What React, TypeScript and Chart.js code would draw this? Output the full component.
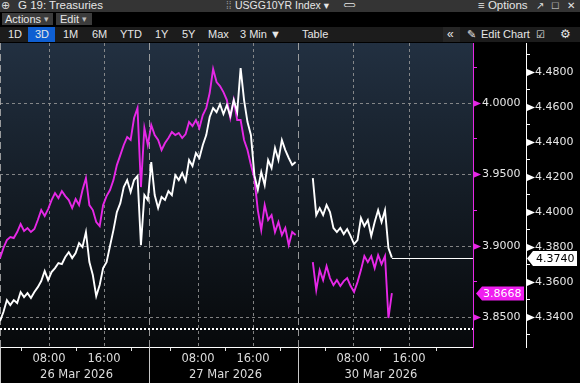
import React, { useEffect, useRef } from "react";
import { Chart, registerables } from "chart.js";

Chart.register(...registerables);

// ---------- time axis (hours of displayed session time) ----------
const xStart = 0;
const xEnd = 68.8;
const sampleStepHours = 0.5;
const segmentStarts = [0, 45.5];
const dayStartTimes = [0, 21.67, 43.35];
const hourTickTimes = [7.13, 15.13, 28.8, 36.8, 51.35, 59.5];
const hourTickLabels = ["08:00", "16:00", "08:00", "16:00", "08:00", "16:00"];
const minorTickTimes = [3.13, 11.13, 19.13, 24.8, 32.8, 40.8, 47.35, 55.4, 63.5];
const dateTickTimes = [11.13, 32.8, 55.4];
const dateLabels = ["26 Mar 2026", "27 Mar 2026", "30 Mar 2026"];

// ---------- USGG10YR Index (white, outer right axis) ----------
const usggThuFri = [
  4.3377, 4.3429, 4.3497, 4.3469, 4.3497, 4.348, 4.3543, 4.3514, 4.3537, 4.3509,
  4.3543, 4.3571, 4.3606, 4.3663, 4.3611, 4.3657, 4.368, 4.3709, 4.3703, 4.3743,
  4.3771, 4.3737, 4.3766, 4.3823, 4.38, 4.3886, 4.3714, 4.364, 4.352, 4.3583,
  4.368, 4.3714, 4.3806, 4.3897, 4.4, 4.4051, 4.4143, 4.4183, 4.4114, 4.4183,
  4.4206, 4.3811, 4.4097, 4.4069, 4.4286, 4.4097, 4.4023, 4.4086, 4.4069, 4.412,
  4.4097, 4.4211, 4.4183, 4.4223, 4.4177, 4.4297, 4.4263, 4.4337, 4.4309, 4.4383,
  4.444, 4.4543, 4.4594, 4.4571, 4.4617, 4.456, 4.4611, 4.4549, 4.464, 4.4571,
  4.4823, 4.464, 4.4514, 4.444, 4.4211, 4.4126, 4.4229, 4.4154, 4.4297, 4.4251,
  4.4366, 4.4297, 4.4411, 4.4354, 4.4309, 4.4269, 4.4286,
];
const usggMon = [
  4.4194, 4.3983, 4.4023, 4.3983, 4.404, 4.4, 4.3909, 4.3886, 4.3909, 4.3874,
  4.3903, 4.3863, 4.3817, 4.384, 4.3966, 4.392, 4.3954, 4.3863, 4.3943, 4.4011,
  4.3943, 4.4011, 4.3794, 4.374,
];

// ---------- comparison series (magenta, inner right axis) ----------
const magentaThuFri = [
  3.8913, 3.8984, 3.904, 3.9061, 3.9054, 3.9096, 3.9152, 3.9103, 3.9124, 3.9096,
  3.9117, 3.918, 3.925, 3.9208, 3.9257, 3.932, 3.9369, 3.9334, 3.9383, 3.9348,
  3.932, 3.9264, 3.9327, 3.9285, 3.939, 3.9474, 3.9285, 3.925, 3.9166, 3.9138,
  3.9285, 3.9348, 3.939, 3.946, 3.9565, 3.9635, 3.9706, 3.9762, 3.9741, 3.9895,
  3.9965, 3.9411, 3.9825, 3.9706, 3.9846, 3.9776, 3.9741, 3.9671, 3.972, 3.9755,
  3.9797, 3.9776, 3.979, 3.9755, 3.9783, 3.9867, 3.9839, 3.9881, 3.9825, 3.9916,
  3.9965, 4.007, 4.0238, 4.0147, 4.0119, 4.0077, 4.0021, 3.9895, 4.0021, 3.9881,
  3.9881, 3.9741, 3.9671, 3.9565, 3.9474, 3.925, 3.911, 3.9285, 3.918, 3.9215,
  3.9096, 3.9166, 3.9075, 3.9124, 3.9005, 3.9096, 3.9075,
];
const magentaMon = [
  3.8885, 3.8689, 3.8829, 3.8759, 3.8857, 3.8773, 3.8724, 3.8759, 3.8717, 3.8752,
  3.8773, 3.8717, 3.8675, 3.8745, 3.8829, 3.8927, 3.8885, 3.8927, 3.8843, 3.8934,
  3.8871, 3.8927, 3.8493, 3.8668,
];

// ---------- axes ----------
const magentaAxisMin = 3.829;
const magentaAxisMax = 4.0421;
const whiteAxisMin = 4.3229;
const whiteAxisMax = 4.4966;
const magentaTicks = [3.85, 3.875, 3.9, 3.925, 3.95, 3.975, 4.0, 4.025];
const magentaLabelled = [3.85, 3.9, 3.95, 4.0];
const whiteTicks = [
  4.33, 4.34, 4.35, 4.36, 4.37, 4.38, 4.39, 4.4, 4.41, 4.42, 4.43, 4.44, 4.45,
  4.46, 4.47, 4.48, 4.49,
];
const whiteLabelled = [4.34, 4.36, 4.38, 4.4, 4.42, 4.44, 4.46, 4.48];
const referenceLevel = 3.8416; // dotted line, magenta axis

const MAGENTA = "#e628e6";
const TAG_MAGENTA = "#f01ef0";
const FONT = '"DejaVu Sans", sans-serif';

const near = (list: number[], v: number) => list.some((m) => Math.abs(m - v) < 1e-6);

function toPoints(segments: number[][]) {
  const pts: { x: number; y: number | null }[] = [];
  segments.forEach((vals, s) => {
    if (s > 0) pts.push({ x: segmentStarts[s] - sampleStepHours, y: null });
    vals.forEach((v, i) => pts.push({ x: segmentStarts[s] + i * sampleStepHours, y: v }));
  });
  return pts;
}

const bbgPlugin = {
  id: "bbg",
  beforeDraw(chart: any) {
    const { ctx, chartArea: a, width, height } = chart;
    ctx.save();
    ctx.fillStyle = "#000";
    ctx.fillRect(0, 0, width, height);
    const g = ctx.createLinearGradient(0, a.top, 0, a.bottom);
    g.addColorStop(0, "#223041");
    g.addColorStop(0.5, "#141c25");
    g.addColorStop(1, "#07090b");
    ctx.fillStyle = g;
    ctx.fillRect(a.left, a.top, a.right - a.left, a.bottom - a.top);
    ctx.restore();
  },
  beforeDatasetsDraw(chart: any) {
    const { ctx, chartArea: a, scales } = chart;
    const x = scales.x;
    const yM = scales.yM;
    const seg = (x1: number, y1: number, x2: number, y2: number) => {
      ctx.beginPath();
      ctx.moveTo(x1, y1);
      ctx.lineTo(x2, y2);
      ctx.stroke();
    };
    ctx.save();
    ctx.lineWidth = 1;
    ctx.strokeStyle = "rgba(150,150,150,0.85)";
    ctx.setLineDash([3, 3]);
    magentaLabelled.forEach((v) => {
      const py = Math.round(yM.getPixelForValue(v)) + 0.5;
      seg(a.left, py, a.right, py);
    });
    hourTickTimes.forEach((t) => {
      const px = Math.round(x.getPixelForValue(t)) + 0.5;
      seg(px, a.top, px, a.bottom);
    });
    ctx.setLineDash([7, 4]);
    ctx.strokeStyle = "rgba(175,175,175,0.85)";
    dayStartTimes.forEach((t) => {
      const px = Math.round(x.getPixelForValue(t)) + 0.5;
      seg(px, a.top, px, a.bottom);
    });
    ctx.setLineDash([2, 2]);
    ctx.lineWidth = 2;
    ctx.strokeStyle = "#ffffff";
    const ry = Math.round(yM.getPixelForValue(referenceLevel));
    seg(a.left, ry, a.right, ry);
    ctx.restore();
  },
  afterDatasetsDraw(chart: any) {
    const { ctx, chartArea: a, scales } = chart;
    const last = usggMon[usggMon.length - 1];
    const lastT = segmentStarts[1] + (usggMon.length - 1) * sampleStepHours;
    const px = scales.x.getPixelForValue(lastT);
    const py = Math.round(scales.yW.getPixelForValue(last)) + 0.5;
    ctx.save();
    ctx.strokeStyle = "#ffffff";
    ctx.lineWidth = 1;
    ctx.beginPath();
    ctx.moveTo(px, py);
    ctx.lineTo(a.right, py);
    ctx.stroke();
    ctx.restore();
  },
  afterDraw(chart: any) {
    const { ctx, chartArea: a, scales, height } = chart;
    const yM = scales.yM;
    const yW = scales.yW;
    ctx.save();
    const tri = (x0: number, y: number, color: string) => {
      ctx.fillStyle = color;
      ctx.beginPath();
      ctx.moveTo(x0, y - 3.5);
      ctx.lineTo(x0 + 8, y);
      ctx.lineTo(x0, y + 3.5);
      ctx.closePath();
      ctx.fill();
    };
    magentaLabelled.forEach((v) => tri(yM.left, Math.round(yM.getPixelForValue(v)) + 0.5, MAGENTA));
    whiteLabelled.forEach((v) => tri(yW.left + 1, Math.round(yW.getPixelForValue(v)) + 0.5, "#ffffff"));
    ctx.strokeStyle = "#c8c8c8";
    ctx.lineWidth = 1;
    dayStartTimes.forEach((t) => {
      const px = Math.round(scales.x.getPixelForValue(t)) + 0.5;
      ctx.beginPath();
      ctx.moveTo(px, a.bottom);
      ctx.lineTo(px, height);
      ctx.stroke();
    });
    ctx.font = `11px ${FONT}`;
    ctx.textBaseline = "middle";
    ctx.textAlign = "left";
    const mLast = magentaMon[magentaMon.length - 1];
    const my = Math.round(yM.getPixelForValue(mLast)) + 0.5;
    const mx = yM.left;
    ctx.fillStyle = TAG_MAGENTA;
    ctx.beginPath();
    ctx.moveTo(mx + 3, my);
    ctx.lineTo(mx + 9, my - 7);
    ctx.lineTo(mx + 51, my - 7);
    ctx.lineTo(mx + 51, my + 7);
    ctx.lineTo(mx + 9, my + 7);
    ctx.closePath();
    ctx.fill();
    ctx.fillStyle = "#ffffff";
    ctx.fillText(mLast.toFixed(4), mx + 10, my + 0.5);

    const wLast = usggMon[usggMon.length - 1];
    const wy = Math.round(yW.getPixelForValue(wLast)) + 0.5;
    const wx = yW.left;
    ctx.fillStyle = "#ffffff";
    ctx.beginPath();
    ctx.moveTo(wx + 1, wy);
    ctx.lineTo(wx + 7, wy - 7.5);
    ctx.lineTo(wx + 51, wy - 7.5);
    ctx.lineTo(wx + 51, wy + 7.5);
    ctx.lineTo(wx + 7, wy + 7.5);
    ctx.closePath();
    ctx.fill();
    ctx.fillStyle = "#000000";
    ctx.fillText(wLast.toFixed(4), wx + 10, wy + 0.5);
    ctx.restore();
  },
};

function Toolbar() {
  const t = (left: number, top: number, text: string, style: any = {}) => (
    <span style={{ position: "absolute", left, top, whiteSpace: "pre", ...style }}>{text}</span>
  );
  const row3 = { lineHeight: "15px", fontSize: 11 };
  return (
    <>
      <div style={{ position: "absolute", left: 0, top: 0, width: 580, height: 12, background: "#343434" }} />
      {t(1, -1, "⊕", { fontSize: 11, lineHeight: "13px", color: "#ddd" })}
      {t(18, -1, "G 19: Treasuries", { fontSize: 11.5, lineHeight: "13px" })}
      {t(226, -1, "⁞⁞", { fontSize: 10, lineHeight: "13px", color: "#999" })}
      {t(235, -1, "USGG10YR Index ▾", { fontSize: 10.5, lineHeight: "13px" })}
      {t(343, -1, "⊂⊃", { fontSize: 9, lineHeight: "13px", letterSpacing: -2 })}
      {t(478, -1, "≡ Options", { fontSize: 11.5, lineHeight: "13px" })}
      {t(536, -1, "↗", { fontSize: 10, lineHeight: "13px" })}
      {t(552, -1, "□", { fontSize: 11, lineHeight: "13px" })}
      {t(567, -1, "✕", { fontSize: 10, lineHeight: "13px" })}

      <div style={{ position: "absolute", left: 2, top: 13, width: 51, height: 12, background: "#3c3c3c" }} />
      <div style={{ position: "absolute", left: 56, top: 13, width: 36, height: 12, background: "#3c3c3c" }} />
      {t(5, 13, "Actions", { fontSize: 11, lineHeight: "12px" })}
      {t(44, 13, "▾", { fontSize: 9, lineHeight: "12px", color: "#bbb" })}
      {t(60, 13, "Edit", { fontSize: 11, lineHeight: "12px" })}
      {t(82, 13, "▾", { fontSize: 9, lineHeight: "12px", color: "#bbb" })}

      <div style={{ position: "absolute", left: 0, top: 27, width: 580, height: 15, background: "#1c1c1c" }} />
      <div style={{ position: "absolute", left: 28, top: 27, width: 27, height: 15, background: "#0f5fd2" }} />
      {t(8, 27, "1D", row3)}
      {t(35, 27, "3D", row3)}
      {t(63, 27, "1M", row3)}
      {t(92, 27, "6M", row3)}
      {t(120, 27, "YTD", row3)}
      {t(155, 27, "1Y", row3)}
      {t(182, 27, "5Y", row3)}
      {t(208, 27, "Max", row3)}
      {t(240, 27, "3 Min ▼", row3)}
      {t(302, 27, "Table", row3)}
      <div style={{ position: "absolute", left: 443, top: 27, width: 17, height: 15, background: "#262626" }} />
      {t(447, 27, "«", { ...row3, fontSize: 12 })}
      {t(467, 27, "✎", row3)}
      {t(481, 27, "Edit Chart", row3)}
      {t(536, 27, "☑", { ...row3, fontSize: 10 })}
      {t(560, 27, "⚙", { ...row3, fontSize: 12 })}
    </>
  );
}

export default function App() {
  const ref = useRef<HTMLCanvasElement>(null);
  useEffect(() => {
    const canvas = ref.current;
    if (!canvas) return;
    const chart = new Chart(canvas, {
      type: "line",
      data: {
        datasets: [
          {
            label: "USGG10YR Index",
            data: toPoints([usggThuFri, usggMon]) as any,
            xAxisID: "x",
            yAxisID: "yW",
            borderColor: "#ffffff",
            borderWidth: 1.9,
            borderJoinStyle: "miter",
            pointRadius: 0,
            tension: 0,
            spanGaps: false,
          },
          {
            label: "Comparison",
            data: toPoints([magentaThuFri, magentaMon]) as any,
            xAxisID: "x",
            yAxisID: "yM",
            borderColor: MAGENTA,
            borderWidth: 1.9,
            borderJoinStyle: "miter",
            pointRadius: 0,
            tension: 0,
            spanGaps: false,
          },
        ],
      },
      options: {
        animation: false,
        responsive: false,
        maintainAspectRatio: false,
        devicePixelRatio: 1,
        layout: { padding: 0, autoPadding: false } as any,
        plugins: { legend: { display: false }, tooltip: { enabled: false } },
        scales: {
          x: {
            type: "linear",
            position: "bottom",
            min: xStart,
            max: xEnd,
            afterBuildTicks: (s: any) => {
              const vals = [...hourTickTimes, ...minorTickTimes].sort((p, q) => p - q);
              s.ticks = vals.map((v) => ({ value: v }));
            },
            ticks: {
              autoSkip: false,
              maxRotation: 0,
              minRotation: 0,
              padding: 0,
              color: "#dcdcdc",
              font: { family: FONT, size: 11.5, lineHeight: 1.4 },
              callback: (value: any) => {
                const v = Number(value);
                const h = hourTickTimes.findIndex((tt) => Math.abs(tt - v) < 1e-6);
                if (h >= 0) return hourTickLabels[h];
                const d = dateTickTimes.findIndex((tt) => Math.abs(tt - v) < 1e-6);
                if (d >= 0) return ["", dateLabels[d]];
                return "";
              },
            },
            grid: {
              display: true,
              drawOnChartArea: false,
              drawTicks: true,
              tickLength: 4,
              tickColor: (c: any) =>
                c.tick && near(minorTickTimes, c.tick.value) ? "#dddddd" : "rgba(0,0,0,0)",
            },
            border: { display: true, color: "#ffffff", width: 1 },
            afterFit: (s: any) => {
              s.height = 36;
              s.paddingLeft = 0;
              s.paddingRight = 0;
            },
          } as any,
          yM: {
            type: "linear",
            position: "right",
            weight: 0,
            min: magentaAxisMin,
            max: magentaAxisMax,
            afterBuildTicks: (s: any) => {
              s.ticks = magentaTicks.map((v) => ({ value: v }));
            },
            ticks: {
              padding: 5,
              color: "#e6e6e6",
              font: { family: FONT, size: 11 },
              callback: (value: any) => (near(magentaLabelled, Number(value)) ? Number(value).toFixed(4) : ""),
            },
            grid: {
              display: true,
              drawOnChartArea: false,
              drawTicks: true,
              tickLength: 4,
              tickColor: (c: any) =>
                c.tick && near(magentaLabelled, c.tick.value) ? "rgba(0,0,0,0)" : MAGENTA,
            },
            border: { display: true, color: MAGENTA, width: 1 },
            afterFit: (s: any) => {
              s.width = 53;
              s.paddingTop = 0;
              s.paddingBottom = 0;
            },
          } as any,
          yW: {
            type: "linear",
            position: "right",
            weight: 1,
            min: whiteAxisMin,
            max: whiteAxisMax,
            afterBuildTicks: (s: any) => {
              s.ticks = whiteTicks.map((v) => ({ value: v }));
            },
            ticks: {
              padding: 5,
              color: "#e6e6e6",
              font: { family: FONT, size: 11 },
              callback: (value: any) => (near(whiteLabelled, Number(value)) ? Number(value).toFixed(4) : ""),
            },
            grid: {
              display: true,
              drawOnChartArea: false,
              drawTicks: true,
              tickLength: 4,
              tickColor: (c: any) =>
                c.tick && near(whiteLabelled, c.tick.value) ? "rgba(0,0,0,0)" : "#ffffff",
            },
            border: { display: true, color: "#ffffff", width: 1 },
            afterFit: (s: any) => {
              s.width = 54;
              s.paddingTop = 0;
              s.paddingBottom = 0;
            },
          } as any,
        },
      },
      plugins: [bbgPlugin as any],
    });
    return () => chart.destroy();
  }, []);

  return (
    <div
      style={{
        position: "fixed",
        left: 0,
        top: 0,
        width: 580,
        height: 383,
        background: "#000",
        overflow: "hidden",
        color: "#e6e6e6",
        fontFamily: '"Liberation Sans", Arial, "DejaVu Sans", sans-serif',
      }}
    >
      <Toolbar />
      <canvas
        ref={ref}
        width={580}
        height={340}
        style={{ position: "absolute", left: 0, top: 43, width: 580, height: 340 }}
      />
    </div>
  );
}
